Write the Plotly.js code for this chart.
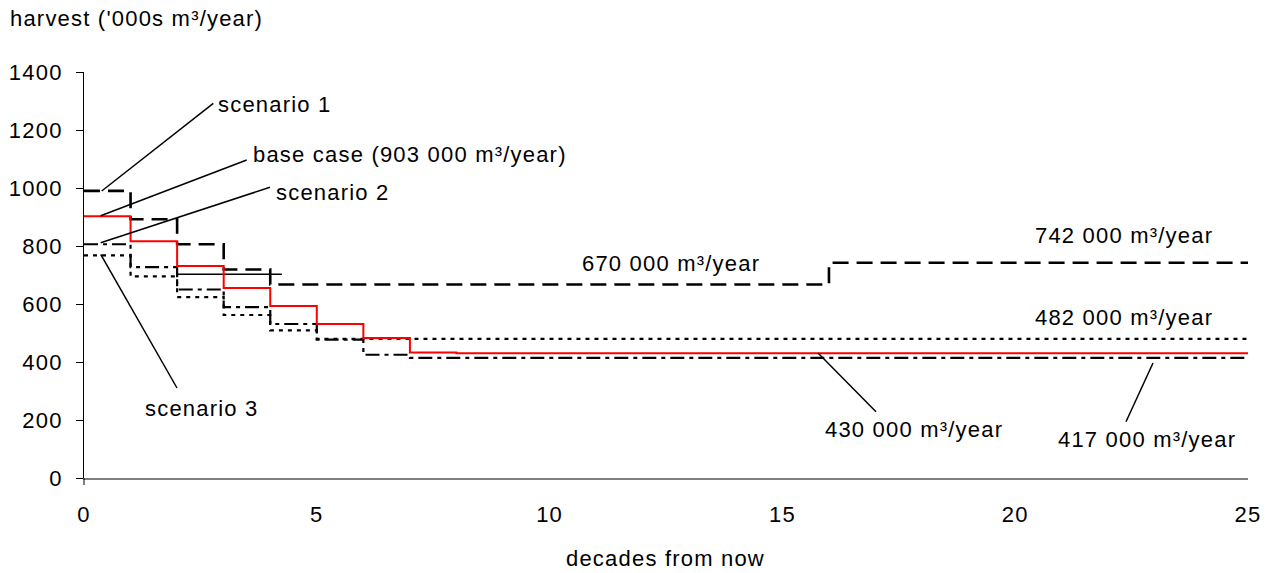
<!DOCTYPE html>
<html><head><meta charset="utf-8">
<script src="https://cdn.plot.ly/plotly-3.0.1.min.js"></script>
<style>body{margin:0;background:#fff} svg text{letter-spacing:1.2px}</style>
</head><body><div id="chart" style="width:1272px;height:573px"></div>
<script>
// ---- data ----
const decadesBase = [0, 1, 2, 3, 4, 5, 6, 7, 8, 25];
const baseCase    = [903, 816, 731, 655, 593, 531, 483, 433, 430, 430];
const decadesS1   = [0, 1, 2, 3, 4, 16, 25];
const scenario1   = [990, 892, 806, 719, 667, 742, 742];
const decadesS2   = [0, 1, 2, 3, 4, 5, 6, 7, 25];
const scenario2   = [806, 727, 650, 589, 531, 477, 425, 414, 414];
const decadesS3   = [0, 1, 2, 3, 4, 5, 25];
const scenario3   = [768, 695, 624, 562, 509, 480, 480];
const decadesExtra = [2, 4.25];
const extraLine    = [703, 703];
const xTicks = [0, 5, 10, 15, 20, 25];
const yTicks = [0, 200, 400, 600, 800, 1000, 1200, 1400];
const labels = {
  yTitle: "harvest ('000s m³/year)",
  xTitle: "decades from now",
  s1: "scenario 1", base: "base case (903 000 m³/year)", s2: "scenario 2", s3: "scenario 3",
  v670: "670 000 m³/year", v742: "742 000 m³/year", v482: "482 000 m³/year",
  v430: "430 000 m³/year", v417: "417 000 m³/year"
};

// ---- pixel helpers for label placement ----
const L = 84, R = 1248, T = 72, B = 478;
const X = px => (px - L) / (R - L) * 25;
const Y = py => (B - py) / (B - T) * 1400;
const PX = px => (px - L) / (R - L);
const PY = py => (B - py) / (B - T);

const FONT = {family: '"Liberation Sans", Arial, sans-serif', size: 22, color: '#000'};

const traces = [
  {x: decadesS3, y: scenario3, mode: 'lines', line: {shape: 'hv', color: '#000', width: 2.2, dash: '4px,5px'}},
  {x: decadesS2, y: scenario2, mode: 'lines', line: {shape: 'hv', color: '#000', width: 2.2, dash: '14px,5px,4px,5px'}},
  {x: decadesS1, y: scenario1, mode: 'lines', line: {shape: 'hv', color: '#000', width: 2.6, dash: '16px,8px'}},
  {x: decadesExtra, y: extraLine, mode: 'lines', line: {color: '#000', width: 1.5}},
  {x: decadesBase, y: baseCase, mode: 'lines', line: {shape: 'hv', color: '#ff0000', width: 2}}
];

function ann(text, left, cy, anchor) {
  return {text: text, x: PX(left), y: PY(cy), xref: 'paper', yref: 'paper', xanchor: anchor || 'left', yanchor: 'middle',
          showarrow: false, font: FONT};
}
function seg(x0, y0, x1, y1) {
  return {type: 'line', xref: 'x', yref: 'y', x0: X(x0), y0: Y(y0), x1: X(x1), y1: Y(y1),
          line: {color: '#000', width: 1.5}};
}

const layout = {
  width: 1272, height: 573,
  margin: {l: L, r: 1272 - R, t: T, b: 573 - B},
  paper_bgcolor: '#fff', plot_bgcolor: '#fff',
  showlegend: false,
  font: FONT,
  xaxis: {range: [0, 25], tickvals: xTicks, ticktext: xTicks.map(String), showgrid: false, zeroline: false,
          showline: true, linecolor: '#808080', linewidth: 2, ticks: '', ticklabelstandoff: 16,
          tickfont: FONT, fixedrange: true},
  yaxis: {range: [0, 1400], tickvals: yTicks, ticktext: yTicks.map(String), showgrid: false, zeroline: false,
          showline: true, linecolor: '#000', linewidth: 1, ticks: 'outside', ticklen: 7, tickcolor: '#000',
          tickwidth: 1, ticklabelstandoff: 9, tickfont: FONT, fixedrange: true},
  annotations: [
    ann(labels.yTitle, 8, 18),
    ann(labels.xTitle, 665, 558, 'center'),
    ann(labels.s1, 216, 104),
    ann(labels.base, 251, 154),
    ann(labels.s2, 274, 192),
    ann(labels.s3, 143, 408),
    ann(labels.v670, 580, 263),
    ann(labels.v742, 1033, 235),
    ann(labels.v482, 1033, 317),
    ann(labels.v430, 823, 429),
    ann(labels.v417, 1056, 439)
  ],
  shapes: [
    seg(101.7, 191, 213.3, 103.3),
    seg(100.7, 215.7, 246.7, 160),
    seg(100.7, 242.7, 270, 187.3),
    seg(100.7, 254.3, 177, 388),
    seg(818, 353, 876, 411.7),
    seg(1153, 363, 1126, 421.7),
    {type: 'line', xref: 'paper', yref: 'paper', x0: 0, x1: 0, y0: 0, y1: -7 / (B - T), line: {color: '#000', width: 1}}
  ]
};

Plotly.newPlot('chart', traces, layout, {staticPlot: true, displayModeBar: false});
</script></body></html>
